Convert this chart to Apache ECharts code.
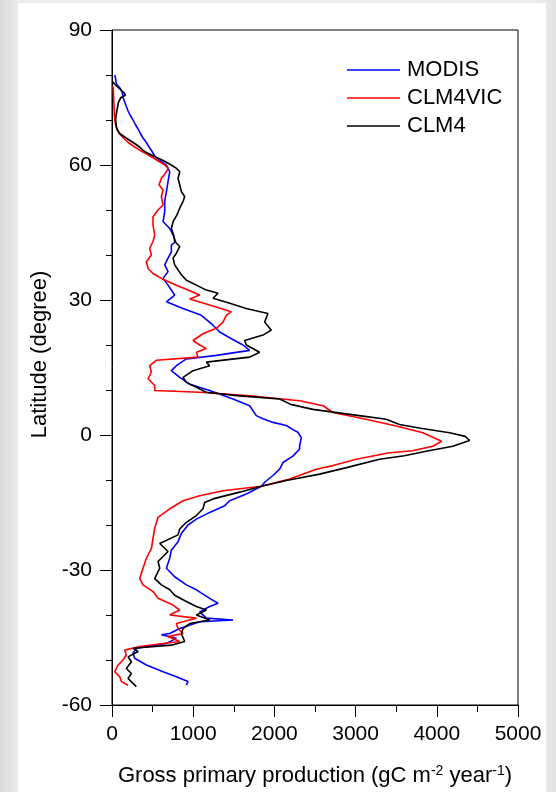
<!DOCTYPE html>
<html>
<head>
<meta charset="UTF-8">
<title>GPP by latitude</title>
<script src="https://cdn.jsdelivr.net/npm/echarts@6/dist/echarts.min.js"></script>
<style>
  html, body { margin: 0; padding: 0; }
  body { width: 556px; height: 792px; background: linear-gradient(90deg, #d9d9d9 0px, #ececec 18px, #ececec 538px, #e2e2e2 556px); position: relative; overflow: hidden; }
  #panel { position: absolute; left: 18px; top: 3px; width: 528px; height: 789px; background: #fff; }
  #chart { position: absolute; left: 0; top: 0; width: 556px; height: 792px; }
</style>
</head>
<body>
<div id="panel"></div>
<div id="chart"></div>
<script>
// latitude (degree) and GPP (gC m-2 year-1), north to south
var modisLat = [80, 79, 78, 77, 76, 75, 74, 73, 72, 71, 70, 69, 68, 67, 66, 65, 64, 63, 62, 61, 60,
  58.5, 56.3, 54.1, 51.9, 49.6, 47.4, 45.9, 44.4, 43, 42.2, 40.7, 39.3, 37.8, 36.3, 34.8, 33.3, 31.1, 29.6,
  28.1, 26.6, 24.4, 22.9, 21.4, 20, 18.8, 17.7, 16.9, 15.4, 14.3, 12.8, 11.3, 9.9, 8, 6.5, 4.3, 3.6, 2.8,
  2.1, 1.2, 0.6, -0.6, -0.9, -2.5, -3.1, -4.7, -6.1, -7.6, -9, -10.5, -11.4, -13.1, -14.6, -15.7, -17.2,
  -18.7, -20, -21.9, -23.7, -25.6, -27.4, -29.6, -31.5, -33.3, -34.4, -36.3, -37.4, -38.1, -39.3, -40.7,
  -41.1, -41.5, -43, -44.1, -44.4, -45.2, -46.3, -47.4, -48.5, -49.6, -51.1, -52.6, -53.7, -54.8, -55.6];
var modisGpp = [34, 46, 54, 103, 128, 136, 157, 177, 198, 226, 259, 288, 321, 350, 382, 423, 456, 493, 526, 588, 670,
  711, 690, 670, 649, 649, 629, 711, 752, 784, 731, 731, 690, 649, 690, 629, 690, 772, 670,
  875, 1100, 1244, 1326, 1470, 1613, 1695, 1285, 916, 793, 731, 834, 957, 1203, 1490, 1695, 1777, 1859, 1983,
  2147, 2228, 2290, 2331, 2331, 2310, 2311, 2228, 2106, 2065, 1982, 1880, 1840, 1654, 1449, 1388, 1203,
  1039, 936, 854, 813, 731, 711, 670, 772, 916, 1039, 1203, 1306, 1203, 1080, 1162,
  1490, 1080, 834, 711, 608, 793, 670, 300, 259, 280, 423, 629, 793, 936, 916];

var vicLat = [77.5, 77, 75, 73, 71, 70, 69, 68, 67, 66, 65, 64, 63, 62, 61, 60, 59.3, 58.5, 57, 55.6, 54.4,
  53, 51.1, 50, 48.5, 46.7, 44.4, 43, 41.5, 40, 38.5, 37, 35.9, 34.8, 33.3, 32.2, 31.1, 30.2, 28.9, 27.4,
  26.6, 25.1, 23.7, 22.5, 21, 20, 19.2, 18.4, 17.3, 16.6, 15.4, 14, 12.5, 11, 9.9, 9.5, 8.7, 7.6, 6.5, 5,
  3.6, 2, 0.5, -0.5, -1.4, -2.5, -3.5, -4, -5.4, -6.8, -7.6, -9.8, -11.4, -12.4, -13.5, -14.6, -16.4, -18.3,
  -20.7, -23, -25.2, -27.4, -29.6, -31.9, -33.3, -34.8, -36.3, -37.8, -38.9, -40, -40.7, -41.9, -43, -44.1,
  -44.8, -45.9, -47, -47.8, -48.9, -50, -51.1, -52.6, -53.7, -54.8, -55.6];
var vicGpp = [10, 15, 20, 25, 30, 35, 45, 60, 90, 140, 200, 280, 370, 470, 560, 650, 690, 670, 608, 579, 629,
  608, 629, 567, 505, 505, 526, 505, 464, 485, 423, 444, 505, 608, 793, 936, 1080, 957, 1203, 1470,
  1408, 1367, 1285, 1121, 998, 1080, 1162, 1039, 1059, 547, 464, 485, 444, 526, 526, 1080, 1695, 2311, 2600, 2720,
  3100, 3500, 3829, 3950, 4060, 3950, 3700, 3400, 3008, 2721, 2516, 2188, 1840, 1367, 1080, 875, 711, 567,
  526, 505, 485, 423, 382, 341, 382, 505, 567, 752, 834, 711, 1039, 793, 813, 875,
  690, 834, 341, 157, 177, 136, 75, 34, 95, 116, 198];

var clmLat = [78.5, 78, 77, 76, 75.5, 75, 74, 73, 72, 71, 70, 69, 68, 67, 66, 65, 64, 63, 62, 61, 60, 59.3,
  58.5, 57, 55.6, 54.1, 53, 51.9, 50.4, 48.9, 47.4, 45.9, 44.4, 43, 41.9, 40.4, 39.3, 37.8, 36.7, 35.6,
  34.4, 33.3, 32.2, 31.5, 30.4, 29.3, 28.1, 27, 25.1, 23.3, 22.2, 21, 20, 18.4, 17.3, 16.2, 15.4, 14.3,
  12.8, 11.7, 10.6, 9.5, 8.7, 8, 6.8, 5.7, 4.2, 3.5, 2.35, 1.5, 0.5, -0.3, -1.2, -2.5, -3.6, -4.6, -5.4,
  -7.2, -8.7, -10.1, -11.4, -12.7, -14.2, -15, -16.4, -17.9, -19.4, -20.9, -22.2, -24.1, -25.9, -28.1,
  -29.6, -31.9, -33.3, -34.4, -35.6, -37, -38.1, -38.9, -40, -41.1, -41.9, -43, -44.1, -45.9, -46.7,
  -47.4, -48.1, -49.3, -50.4, -51.9, -53, -54.1, -55.2, -55.9];
var clmGpp = [10, 30, 90, 150, 165, 110, 80, 70, 60, 50, 45, 50, 60, 95, 175, 260, 340, 400, 510, 630, 730, 790,
  835, 813, 834, 854, 895, 875, 834, 800, 752, 731, 760, 772, 834, 793, 752, 772, 813, 854,
  916, 1039, 1162, 1306, 1244, 1450, 1654, 1920, 1880, 1962, 1860, 1634, 1654, 1818, 1695, 1162, 1203, 998,
  875, 916, 1039, 1162, 1572, 2065, 2200, 2475, 3090, 3378, 3541, 3800, 4157, 4350, 4403, 4198, 3869, 3600, 3295,
  2900, 2557, 2147, 1840, 1572, 1244, 1141, 1121, 1039, 916, 834, 813, 588, 690, 567,
  588, 526, 608, 711, 772, 916, 1039, 1162, 1039, 1203, 957, 875, 854, 895, 731,
  259, 321, 198, 239, 177, 239, 198, 259, 300];

var xTicks = [0, 1000, 2000, 3000, 4000, 5000];
var yTicks = [-60, -30, 0, 30, 60, 90];

function pairs(gpp, lat) {
  var out = [];
  for (var i = 0; i < lat.length; i++) out.push([gpp[i], lat[i]]);
  return out;
}

var font = 'Liberation Sans, Arial, sans-serif';
var chart = echarts.init(document.getElementById('chart'), null, { renderer: 'canvas' });

function makeLine(name, color, gpp, lat) {
  return {
    name: name,
    type: 'line',
    symbol: 'none',
    smooth: false,
    clip: false,
    data: pairs(gpp, lat),
    lineStyle: { color: color, width: 1.6 },
    itemStyle: { color: color }
  };
}

chart.setOption({
  backgroundColor: 'transparent',
  animation: false,
  textStyle: { fontFamily: font, color: '#000' },
  grid: {
    left: 112, right: 38, top: 30, bottom: 86,
    show: true, borderColor: '#000', borderWidth: 1, backgroundColor: 'transparent'
  },
  legend: {
    orient: 'vertical',
    left: 342, top: 54,
    icon: 'rect',
    itemWidth: 53, itemHeight: 1.6, itemGap: 6,
    textStyle: { fontFamily: font, fontSize: 22, color: '#000', padding: [0, 0, 0, 2] },
    data: ['MODIS', 'CLM4VIC', 'CLM4']
  },
  xAxis: {
    type: 'value',
    min: xTicks[0], max: xTicks[xTicks.length - 1], interval: 1000,
    splitLine: { show: false },
    axisLine: { show: true, onZero: false, lineStyle: { color: '#000', width: 1 } },
    axisTick: { show: true, length: 12, lineStyle: { color: '#000' } },
    minorTick: { show: true, splitNumber: 2, length: 7, lineStyle: { color: '#000' } },
    axisLabel: { fontSize: 21, color: '#000', margin: 19, fontFamily: font, formatter: function (v) { return String(v); } },
    name: 'Gross primary production (gC m{sup|-2} year{sup|-1})',
    nameLocation: 'middle',
    nameGap: 59,
    nameTextStyle: {
      fontSize: 22, color: '#000', fontFamily: font,
      rich: { sup: { fontSize: 14, verticalAlign: 'top', padding: [0, 0, 10, 0], fontFamily: font, color: '#000' } }
    }
  },
  yAxis: {
    type: 'value',
    min: yTicks[0], max: yTicks[yTicks.length - 1], interval: 30,
    splitLine: { show: false },
    axisLine: { show: true, onZero: false, lineStyle: { color: '#000', width: 1 } },
    axisTick: { show: true, length: 12, lineStyle: { color: '#000' } },
    minorTick: { show: true, splitNumber: 3, length: 6, lineStyle: { color: '#000' } },
    axisLabel: { fontSize: 21, color: '#000', margin: 20, fontFamily: font },
    name: 'Latitude (degree)',
    nameLocation: 'middle',
    nameGap: 60,
    nameTextStyle: { fontSize: 22, color: '#000', fontFamily: font, padding: [0, 0, 0, 26] }
  },
  series: [
    makeLine('MODIS', '#0000ff', modisGpp, modisLat),
    makeLine('CLM4VIC', '#ff0000', vicGpp, vicLat),
    makeLine('CLM4', '#000000', clmGpp, clmLat)
  ]
});
window.onresize = chart.resize;
</script>
</body>
</html>
